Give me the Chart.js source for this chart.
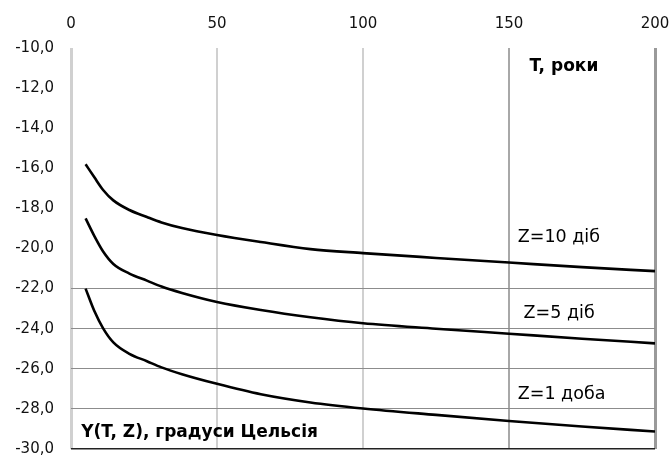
<!DOCTYPE html>
<html>
<head>
<meta charset="utf-8">
<script src="https://cdn.jsdelivr.net/npm/chart.js@4/dist/chart.umd.min.js"></script>
<style>
  html, body { margin: 0; padding: 0; background: #fff; }
  #wrap { width: 672px; height: 457px; }
</style>
</head>
<body>
<div id="wrap"><canvas id="chart"></canvas></div>
<script>
// T, years
const years = [5, 8, 11, 14.5, 20, 26, 31, 38, 50, 65, 82, 100, 125, 150, 175, 200];
// Y(T, Z) for each Z
const z10 = [-15.8, -16.45, -17.08, -17.6, -18.08, -18.43, -18.7, -18.98, -19.33, -19.68, -20.03, -20.23, -20.47, -20.7, -20.93, -21.13];
const z5 = [-18.5, -19.38, -20.15, -20.77, -21.25, -21.6, -21.9, -22.22, -22.67, -23.07, -23.43, -23.73, -24.0, -24.25, -24.5, -24.73];
const z1 = [-22.0, -23.12, -23.98, -24.68, -25.25, -25.62, -25.93, -26.27, -26.75, -27.27, -27.68, -27.98, -28.3, -28.6, -28.88, -29.13];

const xTicks = [0, 50, 100, 150, 200];
const yTicks = [-10, -12, -14, -16, -18, -20, -22, -24, -26, -28, -30];

const FONT = 'DejaVu Sans';

const toPoints = (vals) => vals.map((v, i) => ({ x: years[i], y: v }));

const lineStyle = {
  borderColor: '#000',
  borderWidth: 2.6,
  pointRadius: 0,
  fill: false,
  cubicInterpolationMode: 'monotone'
};

// text labels inside the plot
const labelsPlugin = {
  id: 'labels',
  afterDatasetsDraw(chart) {
    const { ctx, scales: { x, y } } = chart;
    const put = (text, tx, ty, bold) => {
      ctx.save();
      ctx.font = bold ? 'bold 17px "' + FONT + '"' : '17.5px "' + FONT + '"';
      ctx.fillStyle = '#000';
      ctx.textAlign = 'left';
      ctx.textBaseline = 'middle';
      ctx.fillText(text, x.getPixelForValue(tx), y.getPixelForValue(ty));
      ctx.restore();
    };
    put('T, роки', 157, -10.95, true);
    put('Z=10 діб', 153, -19.43, false);
    put('Z=5 діб', 155, -23.25, false);
    put('Z=1 доба', 153, -27.3, false);
    put('Y(T, Z), градуси Цельсія', 3.5, -29.2, true);
  }
};

new Chart(document.getElementById('chart'), {
  type: 'line',
  data: {
    datasets: [
      Object.assign({ label: 'Z=10 діб', data: toPoints(z10) }, lineStyle),
      Object.assign({ label: 'Z=5 діб', data: toPoints(z5) }, lineStyle),
      Object.assign({ label: 'Z=1 доба', data: toPoints(z1) }, lineStyle)
    ]
  },
  options: {
    responsive: true,
    maintainAspectRatio: false,
    animation: false,
    layout: { padding: { left: 0, right: 17, top: 0, bottom: 8 } },
    plugins: {
      legend: { display: false },
      tooltip: { enabled: false }
    },
    scales: {
      x: {
        type: 'linear',
        position: 'top',
        min: 0,
        max: 200,
        afterFit: (s) => {
          s.height = 48;
          s.paddingLeft = 0;
          s.paddingRight = 0;
        },
        afterBuildTicks: (s) => { s.ticks = xTicks.map(v => ({ value: v })); },
        border: { display: false },
        grid: {
          drawTicks: false,
          color: (c) => {
            const v = c.tick && c.tick.value;
            if (v === 150) return '#a8a8a8';
            if (v === 200) return '#9a9a9a';
            return '#d0d0d0';
          },
          lineWidth: (c) => {
            const v = c.tick && c.tick.value;
            return (v === 0 || v === 200) ? 3 : 2;
          }
        },
        ticks: {
          padding: 15,
          color: '#111',
          font: { family: FONT, size: 15 }
        }
      },
      y: {
        type: 'linear',
        min: -30,
        max: -10,
        afterFit: (s) => {
          s.width = 71;
          s.paddingTop = 0;
          s.paddingBottom = 0;
        },
        afterBuildTicks: (s) => { s.ticks = yTicks.map(v => ({ value: v })); },
        border: { display: false },
        grid: {
          drawTicks: false,
          color: (c) => {
            const v = c.tick && c.tick.value;
            if (v === -30) return '#222';
            if (v <= -22) return '#8c8c8c';
            return 'rgba(0,0,0,0)';
          },
          lineWidth: (c) => (c.tick && c.tick.value === -30 ? 1.5 : 1)
        },
        ticks: {
          padding: 17,
          color: '#111',
          font: { family: FONT, size: 15 },
          callback: (v) => v.toFixed(1).replace('.', ',')
        }
      }
    }
  },
  plugins: [labelsPlugin]
});
</script>
</body>
</html>
